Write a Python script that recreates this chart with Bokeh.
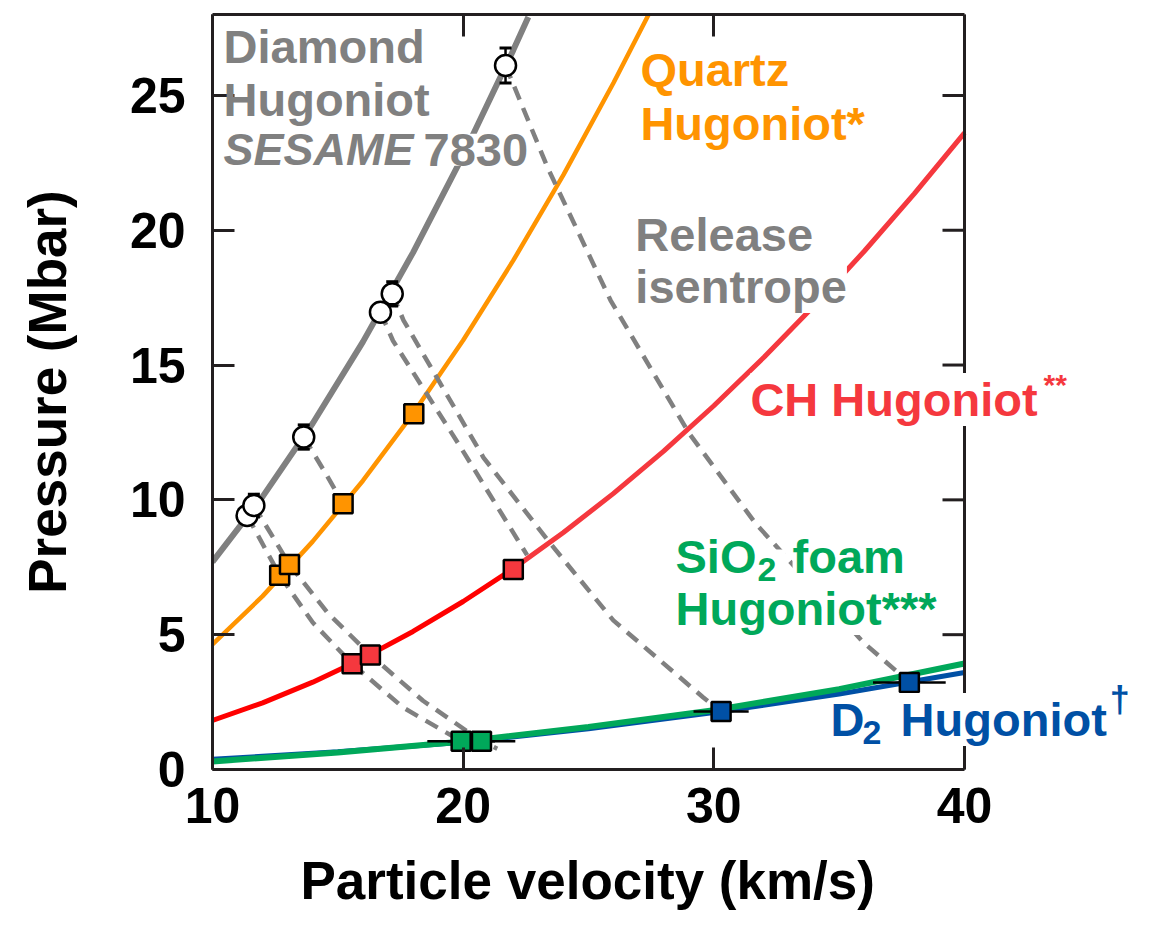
from math import pi

from bokeh.plotting import figure
from bokeh.models import Range1d, LinearAxis, Label, FixedTicker, Span, Title
from bokeh.embed import file_html
from bokeh.resources import INLINE

FONT = "Liberation Sans"

# Axis ticks
x_ticks = [10, 20, 30, 40]
y_ticks = [0, 5, 10, 15, 20, 25]

# Hugoniot curves: particle velocity (km/s) vs pressure (Mbar)
diamond_up = [10, 12, 14, 16, 18, 20, 22, 22.6]
diamond_P = [7.70, 10.12, 12.84, 15.86, 19.17, 22.78, 26.68, 27.91]

quartz_up = [10, 12, 14, 16, 18, 20, 22, 24, 26, 27.4]
quartz_P = [4.64, 6.43, 8.46, 10.71, 13.20, 15.92, 18.88, 22.05, 25.47, 28.0]

ch_up = [10, 12, 14, 16, 18, 20, 22, 24, 26, 28, 30, 32, 34, 36, 38, 40]
ch_P = [1.82, 2.47, 3.24, 4.12, 5.12, 6.23, 7.45, 8.79, 10.24, 11.81, 13.49,
        15.29, 17.20, 19.22, 21.36, 23.61]

sio2_up = [10, 15, 20, 25, 30, 35, 40]
sio2_P = [0.30, 0.63, 1.04, 1.58, 2.20, 2.98, 3.93]

d2_up = [10, 15, 20, 25, 30, 35, 40]
d2_P = [0.38, 0.66, 1.01, 1.51, 2.11, 2.80, 3.60]

# Measured states
diamond_pts_up = [11.38, 11.65, 13.64, 16.70, 17.17, 21.69]
diamond_pts_P = [9.42, 9.79, 12.33, 16.96, 17.64, 26.11]
diamond_pts_err = [0.30, 0.42, 0.45, 0.30, 0.45, 0.65]

quartz_pts_up = [12.68, 13.07, 15.21, 18.03]
quartz_pts_P = [7.20, 7.60, 9.86, 13.19]

ch_pts_up = [15.57, 16.30, 22.00]
ch_pts_P = [3.92, 4.25, 7.42]

sio2_pts_up = [19.92, 20.73]
sio2_pts_P = [1.05, 1.05]
sio2_pts_err = [1.35, 1.35]

d2_pts_up = [30.29, 37.80]
d2_pts_P = [2.15, 3.23]
d2_pts_err = [1.10, 1.45]

# Release isentropes from the diamond states
rel_a_up = [11.38, 12.68, 14.0, 15.57, 17.6, 19.92, 20.4]
rel_a_P = [9.42, 7.20, 5.45, 3.92, 2.30, 1.05, 0.85]
rel_b_up = [11.65, 13.07, 14.6, 16.30, 18.4, 20.73, 21.36]
rel_b_P = [9.79, 7.60, 5.80, 4.25, 2.55, 1.05, 0.77]
rel_c_up = [13.64, 14.5, 15.21]
rel_c_P = [12.33, 11.0, 9.86]
rel_d_up = [16.70, 17.2, 19.9, 22.55]
rel_d_P = [16.96, 15.9, 11.95, 7.95]
rel_e_up = [17.17, 17.62, 20.81, 23.48, 25.99, 29.58, 30.29]
rel_e_P = [17.64, 16.66, 11.57, 8.38, 5.53, 2.67, 2.15]
rel_f_up = [21.69, 23.36, 25.88, 28.99, 31.66, 35.97, 37.80]
rel_f_P = [26.11, 22.34, 17.40, 12.50, 9.13, 4.71, 3.23]

GRAY = "#808080"
ORANGE = "#ff9400"
RED = "#ff0000"
RED2 = "#f5383e"
GREEN = "#00a85a"
BLUE = "#0050a5"
INK = "#231f20"

X0, X1 = x_ticks[0], x_ticks[-1]
# The frame runs on past the last tick so the curve labels can overhang the
# right-hand border; the visible box stops at X1.
X_VIEW_MAX = 47.141

p = figure(width=1153, height=935, x_range=Range1d(X0, X_VIEW_MAX), y_range=Range1d(0, 28),
           output_backend="svg", toolbar_location=None,
           x_axis_location=None, y_axis_location=None,
           min_border_left=212, min_border_right=10, min_border_top=14, min_border_bottom=166)
p.outline_line_color = None
p.grid.visible = False
p.background_fill_color = "white"
p.border_fill_color = "white"

bottom_axis = LinearAxis(bounds=(X0, X1), ticker=FixedTicker(ticks=x_ticks))
top_axis = LinearAxis(bounds=(X0, X1), ticker=FixedTicker(ticks=x_ticks))
left_axis = LinearAxis(ticker=FixedTicker(ticks=y_ticks))
p.add_layout(bottom_axis, "below")
p.add_layout(top_axis, "above")
p.add_layout(left_axis, "left")

for ax in [bottom_axis, top_axis, left_axis]:
    ax.axis_line_color = INK
    ax.axis_line_width = 3
    ax.major_tick_line_color = INK
    ax.major_tick_line_width = 3
    ax.major_tick_in = 22
    ax.major_tick_out = 0
    ax.minor_tick_line_color = None
    ax.major_label_text_font = FONT
    ax.major_label_text_font_style = "bold"
    ax.major_label_text_color = "black"
    ax.major_label_text_font_size = "50px"
    ax.axis_label_text_font = FONT
    ax.axis_label_text_font_style = "bold"
    ax.axis_label_text_color = "black"
    ax.axis_label_text_font_size = "53px"

top_axis.major_label_text_color = None
top_axis.major_label_text_font_size = "1px"
top_axis.major_label_standoff = 0

bottom_axis.major_label_standoff = 18
left_axis.axis_label = "Pressure (Mbar)"
left_axis.major_label_standoff = 27
left_axis.axis_label_standoff = 50

# x-axis title, centred under the 10-40 box rather than the whole frame
p.add_layout(Title(text="Particle velocity (km/s)", align="left", offset=88,
                   text_font=FONT, text_font_size="53px", text_font_style="bold",
                   text_color="black", standoff=47), "below")

# Right-hand side of the box with inward ticks
p.add_layout(Span(location=X1, dimension="height", line_color=INK, line_width=3))
p.ray(x=[X1] * len(y_ticks), y=y_ticks, length=22, length_units="screen", angle=pi,
      line_color=INK, line_width=3)

# Hugoniot curves
p.line(d2_up, d2_P, line_color=BLUE, line_width=5)
p.line(sio2_up, sio2_P, line_color=GREEN, line_width=6)
p.line(ch_up[:7], ch_P[:7], line_color=RED, line_width=5)
p.line(ch_up[6:], ch_P[6:], line_color=RED2, line_width=5)
p.line(quartz_up, quartz_P, line_color=ORANGE, line_width=4.5)
p.line(diamond_up, diamond_P, line_color=GRAY, line_width=6)

# Release isentropes
for xs, ys in [(rel_a_up, rel_a_P), (rel_b_up, rel_b_P), (rel_c_up, rel_c_P),
               (rel_d_up, rel_d_P), (rel_e_up, rel_e_P), (rel_f_up, rel_f_P)]:
    p.line(xs, ys, line_color=GRAY, line_width=4.5, line_dash="14 9")

# Error bars
p.segment(x0=[u - e for u, e in zip(sio2_pts_up, sio2_pts_err)], y0=sio2_pts_P,
          x1=[u + e for u, e in zip(sio2_pts_up, sio2_pts_err)], y1=sio2_pts_P,
          line_color="black", line_width=2.5)
p.segment(x0=[u - e for u, e in zip(d2_pts_up, d2_pts_err)], y0=d2_pts_P,
          x1=[u + e for u, e in zip(d2_pts_up, d2_pts_err)], y1=d2_pts_P,
          line_color="black", line_width=2.5)
p.segment(x0=diamond_pts_up, y0=[v - e for v, e in zip(diamond_pts_P, diamond_pts_err)],
          x1=diamond_pts_up, y1=[v + e for v, e in zip(diamond_pts_P, diamond_pts_err)],
          line_color="black", line_width=2.5)
p.scatter(diamond_pts_up + diamond_pts_up,
          [v - e for v, e in zip(diamond_pts_P, diamond_pts_err)] +
          [v + e for v, e in zip(diamond_pts_P, diamond_pts_err)],
          marker="dash", size=12, line_color="black", line_width=3)

# Measured states
sq = dict(marker="square", size=19, line_color="black", line_width=2.5)
p.scatter(quartz_pts_up, quartz_pts_P, fill_color=ORANGE, **sq)
p.scatter(ch_pts_up, ch_pts_P, fill_color=RED2, **sq)
p.scatter(sio2_pts_up, sio2_pts_P, fill_color=GREEN, **sq)
p.scatter(d2_pts_up, d2_pts_P, fill_color=BLUE, **sq)
p.scatter(diamond_pts_up, diamond_pts_P, marker="circle", size=21,
          fill_color="white", line_color="black", line_width=2.5)


def add_text(txt, x, y, color, size="47px", style="bold", bg=None):
    p.add_layout(Label(x=x, y=y, text=txt, text_font=FONT, text_font_size=size,
                       text_font_style=style, text_color=color,
                       text_baseline="alphabetic", text_align="left",
                       background_fill_color=bg))


# Labels with a white box first, so stacked lines stay readable
add_text("SESAME", 10.44, 22.98, GRAY, size="45px", style="bold italic", bg="white")
add_text("7830", 18.42, 22.98, GRAY, bg="white")
add_text("Diamond", 10.44, 26.81, GRAY)
add_text("Hugoniot", 10.44, 24.85, GRAY)

add_text("Quartz", 27.07, 25.96, ORANGE)
add_text("Hugoniot*", 27.07, 23.96, ORANGE)

add_text("isentrope", 26.87, 17.91, GRAY, bg="white")
add_text("Release", 26.87, 19.84, GRAY)

add_text("CH Hugoniot", 31.46, 13.72, RED2, bg="white")
add_text("**", 43.15, 14.29, RED2, size="30px")

add_text("Hugoniot***", 28.47, 5.97, GREEN, bg="white")
add_text("SiO", 28.47, 7.90, GREEN, bg="white")
add_text("2\u00a0", 31.74, 7.45, GREEN, size="34px", bg="white")
add_text("foam", 33.14, 7.90, GREEN, bg="white")

add_text("D", 34.65, 1.85, BLUE)
add_text("2", 35.93, 1.37, BLUE, size="34px")
add_text("\u00a0Hugoniot", 36.93, 1.85, BLUE, bg="white")
add_text("\u2020", 45.79, 2.61, BLUE, size="36px")

open("out.html", "w").write(file_html(p, INLINE))
